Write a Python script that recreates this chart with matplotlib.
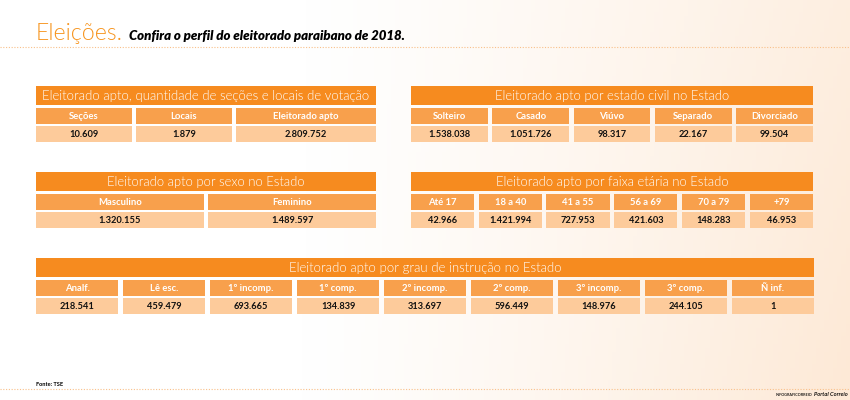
import numpy as np
import matplotlib.pyplot as plt
from matplotlib.patches import Rectangle
from matplotlib.colors import LinearSegmentedColormap

# dados (TSE, 2018)
apto_cols = ["Seções", "Locais", "Eleitorado apto"]
apto_vals = ["10.609", "1.879", "2.809.752"]

civil_cols = ["Solteiro", "Casado", "Viúvo", "Separado", "Divorciado"]
civil_vals = ["1.538.038", "1.051.726", "98.317", "22.167", "99.504"]

sexo_cols = ["Masculino", "Feminino"]
sexo_vals = ["1.320.155", "1.489.597"]

idade_cols = ["Até 17", "18 a 40", "41 a 55", "56 a 69", "70 a 79", "+79"]
idade_vals = ["42.966", "1.421.994", "727.953", "421.603", "148.283", "46.953"]

instr_cols = ["Analf.", "Lê esc.", "1º incomp.", "1º comp.", "2º incomp.",
              "2º comp.", "3º incomp.", "3º comp.", "Ñ inf."]
instr_vals = ["218.541", "459.479", "693.665", "134.839", "313.697",
              "596.449", "148.976", "244.105", "1"]

ORANGE = "#F68B1F"
SUB = "#F8A04C"
CELL = "#FDCB9B"
FONT = ["Lato", "DejaVu Sans"]

fig = plt.figure(figsize=(8.5, 4), dpi=100)
ax = fig.add_axes([0, 0, 1, 1])
ax.set_xlim(0, 850)
ax.set_ylim(400, 0)
ax.axis("off")
renderer = fig.canvas.get_renderer()


def fit(t, width):
    # ajusta o tamanho da fonte para a largura (em px) vista na referência
    w = t.get_window_extent(renderer).width
    t.set_fontsize(t.get_fontsize() * width / w)
    return t


# fundo em degradê
gx = np.linspace(0, 1, 200)
gy = np.linspace(0, 1, 100)
X, Y = np.meshgrid(gx, gy)
t = np.clip((X - 0.35) / 0.65, 0, 1) ** 1.2 * (0.75 + 0.25 * Y)
cmap = LinearSegmentedColormap.from_list("bg", ["#FFFFFF", "#FDE9D6"])
ax.imshow(t, cmap=cmap, extent=[0, 850, 400, 0], aspect="auto", zorder=0, vmin=0, vmax=1)

# título
fit(ax.text(36, 40, "Eleições.", color="#F7941D", fontsize=17, family=FONT,
            fontweight=300, va="baseline"), 87)
fit(ax.text(129, 40, "Confira o perfil do eleitorado paraibano de 2018.", color="black",
            fontsize=9.5, family=FONT, fontweight="heavy", style="italic",
            va="baseline"), 277)
ax.plot([0, 850], [47, 47], ls=(0, (1, 1.5)), color="#F9C08A", lw=0.8)

# tamanhos de fonte das células, a partir de "Eleitorado apto" / "2.809.752"
probe = fit(ax.text(0, -50, "Eleitorado apto", fontsize=7, family=FONT,
                    fontweight="bold"), 66)
SUB_FS = probe.get_fontsize()
probe.remove()
probe = fit(ax.text(0, -50, "2.809.752", fontsize=7, family=FONT, fontweight="bold"), 42)
VAL_FS = probe.get_fontsize()
probe.remove()


def tabela(x0, x1, y0, title, title_w, cols, vals, weights=None, gap=4.5):
    ax.add_patch(Rectangle((x0, y0), x1 - x0, 19, color=ORANGE, lw=0, zorder=2))
    fit(ax.text((x0 + x1) / 2, y0 + 10, title, color="white", fontsize=10, family=FONT,
                fontweight=300, ha="center", va="center", zorder=3), title_w)
    n = len(cols)
    w = np.ones(n) if weights is None else np.array(weights, float)
    total = x1 - x0 - gap * (n - 1)
    widths = w / w.sum() * total
    x = x0
    for c, v, cw in zip(cols, vals, widths):
        ax.add_patch(Rectangle((x, y0 + 22), cw, 16, color=SUB, lw=0, zorder=2))
        ax.add_patch(Rectangle((x, y0 + 40), cw, 16, color=CELL, lw=0, zorder=2))
        ax.text(x + cw / 2, y0 + 30.5, c, color="white", fontsize=SUB_FS, family=FONT,
                fontweight="bold", ha="center", va="center", zorder=3)
        ax.text(x + cw / 2, y0 + 48.5, v, color="#111111", fontsize=VAL_FS, family=FONT,
                fontweight="bold", ha="center", va="center", zorder=3)
        x += cw + gap


tabela(36, 376, 86, "Eleitorado apto, quantidade de seções e locais de votação", 328,
       apto_cols, apto_vals, weights=[1, 1, 1.46])
tabela(411, 813, 86, "Eleitorado apto por estado civil no Estado", 235,
       civil_cols, civil_vals)
tabela(36, 376, 172, "Eleitorado apto por sexo no Estado", 197, sexo_cols, sexo_vals)
tabela(411, 813, 172, "Eleitorado apto por faixa etária no Estado", 232,
       idade_cols, idade_vals)
tabela(36, 814, 258, "Eleitorado apto por grau de instrução no Estado", 270,
       instr_cols, instr_vals)

# rodapé
fit(ax.text(36, 384, "Fonte: TSE", fontsize=4, family=FONT, fontweight="bold",
            va="center"), 27)
ax.plot([0, 850], [389, 389], ls=(0, (1, 1.5)), color="#F9C08A", lw=0.8)
fit(ax.text(812, 395, "INFOGRAFICORREIO", fontsize=4, family=FONT, fontweight="semibold",
            ha="right", va="center"), 37)
fit(ax.text(814, 395, "Portal Correio", fontsize=4, family=FONT, fontweight="semibold",
            style="italic", ha="left", va="center"), 33)

fig.savefig("out.png", dpi=100)
